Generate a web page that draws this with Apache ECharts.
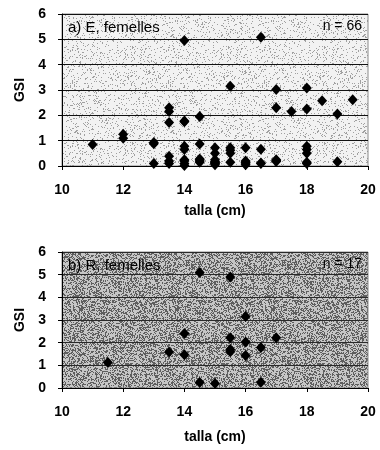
<!DOCTYPE html>
<html>
<head>
<meta charset="utf-8">
<script src="https://cdn.jsdelivr.net/npm/echarts@6/dist/echarts.min.js"></script>
<style>
  html, body { margin: 0; padding: 0; background: #fff; }
  #chart { width: 380px; height: 450px; }
</style>
</head>
<body>
<div id="chart"></div>
<script>
// Axis ticks shared by both panels
const xTicks = [10, 12, 14, 16, 18, 20];
const yTicks = [0, 1, 2, 3, 4, 5, 6];

// a) E, femelles (n = 66): body length (cm) and gonadosomatic index
const tallaE = [
  11,
  12, 12,
  13, 13, 13,
  13.5, 13.5, 13.5, 13.5, 13.5, 13.5,
  14, 14, 14, 14, 14, 14, 14, 14, 14,
  14.5, 14.5, 14.5, 14.5, 14.5, 14.5,
  15, 15, 15, 15, 15, 15, 15, 15,
  15.5, 15.5, 15.5, 15.5, 15.5,
  16, 16, 16, 16, 16,
  16.5, 16.5, 16.5,
  17, 17, 17, 17, 17,
  17.5,
  18, 18, 18, 18, 18, 18, 18,
  18.5,
  19, 19,
  19.5,
  16.5
];
const gsiE = [
  0.85,
  1.25, 1.1,
  0.93, 0.88, 0.1,
  2.3, 2.15, 1.72, 0.38, 0.2, 0.1,
  4.95, 1.78, 1.75, 0.78, 0.65, 0.25, 0.2, 0.1, 0.02,
  1.95, 0.87, 0.28, 0.25, 0.2, 0.15,
  0.72, 0.5, 0.25, 0.18, 0.15, 0.12, 0.1, 0.05,
  3.15, 0.72, 0.62, 0.5, 0.15,
  0.72, 0.2, 0.15, 0.12, 0.05,
  5.08, 0.66, 0.1,
  3.02, 2.3, 0.25, 0.22, 0.18,
  2.15,
  3.08, 2.25, 0.78, 0.65, 0.5, 0.15, 0.1,
  2.58,
  2.05, 0.17,
  2.62,
  0.12
];

// b) R, femelles (n = 17)
const tallaR = [11.5, 13.5, 14, 14, 14.5, 14.5, 15, 15.5, 15.5, 15.5, 15.5, 16, 16, 16, 16.5, 16.5, 17];
const gsiR   = [1.13, 1.59, 2.4, 1.47, 5.1, 0.24, 0.2, 4.9, 2.22, 1.7, 1.6, 3.15, 2.03, 1.43, 1.79, 0.25, 2.22];

const panelLabels = ['a) E, femelles', 'b) R, femelles'];
const countLabels = ['n = 66', 'n = 17'];
const xName = 'talla (cm)';
const yName = 'GSI';

// Stippled paper texture for the plot backgrounds (deterministic hash)
function stipple(base, dark, density) {
  const c = document.createElement('canvas');
  c.width = 96; c.height = 96;
  const ctx = c.getContext('2d');
  ctx.fillStyle = base;
  ctx.fillRect(0, 0, 96, 96);
  ctx.fillStyle = dark;
  for (let y = 0; y < 96; y++) {
    for (let x = 0; x < 96; x++) {
      const h = Math.sin(x * 12.9898 + y * 78.233) * 43758.5453;
      const v = h - Math.floor(h);
      if (v < density) ctx.fillRect(x, y, 1, 1);
    }
  }
  return { image: c, repeat: 'repeat' };
}

const FONT = 'Liberation Sans, Arial, sans-serif';
const grids = [
  { left: 62, top: 14, width: 306, height: 152, bg: stipple('#f2f2f2', '#a0a0a0', 0.12), split: '#111', nameGap: 38, labelMargin: 17 },
  { left: 62, top: 252, width: 306, height: 136, bg: stipple('#c6c6c6', '#5e5e5e', 0.42), split: '#2a2a2a', nameGap: 42, labelMargin: 17 }
];

const option = {
  animation: false,
  backgroundColor: '#fff',
  grid: grids.map(g => ({
    left: g.left, top: g.top, width: g.width, height: g.height,
    show: true, backgroundColor: g.bg, borderColor: '#8a8a8a', borderWidth: 1
  })),
  xAxis: grids.map((g, i) => ({
    gridIndex: i, type: 'value',
    min: xTicks[0], max: xTicks[xTicks.length - 1], interval: xTicks[1] - xTicks[0],
    name: xName, nameLocation: 'middle', nameGap: g.nameGap,
    nameTextStyle: { fontFamily: FONT, fontSize: 14, fontWeight: 'bold', color: '#000' },
    axisLine: { show: true, lineStyle: { color: '#000', width: 1 } },
    axisTick: { show: true, length: 4, lineStyle: { color: '#000' } },
    axisLabel: { fontFamily: FONT, fontSize: 14, fontWeight: 'bold', color: '#000', margin: g.labelMargin },
    splitLine: { show: false }
  })),
  yAxis: grids.map((g, i) => ({
    gridIndex: i, type: 'value',
    min: yTicks[0], max: yTicks[yTicks.length - 1], interval: yTicks[1] - yTicks[0],
    name: yName, nameLocation: 'middle', nameGap: 35, nameRotate: 90,
    nameTextStyle: { fontFamily: FONT, fontSize: 14, fontWeight: 'bold', color: '#000' },
    axisLine: { show: true, lineStyle: { color: '#000', width: 1 } },
    axisTick: { show: true, length: 4, lineStyle: { color: '#000' } },
    axisLabel: { fontFamily: FONT, fontSize: 14, fontWeight: 'bold', color: '#000', margin: 16 },
    splitLine: { show: true, lineStyle: { color: g.split, width: 1 } }
  })),
  series: [
    { x: tallaE, y: gsiE },
    { x: tallaR, y: gsiR }
  ].map((s, i) => ({
    type: 'scatter',
    xAxisIndex: i, yAxisIndex: i,
    symbol: 'diamond', symbolSize: [10, 11],
    itemStyle: { color: '#000', opacity: 1 },
    data: s.x.map((v, k) => [v, s.y[k]])
  })),
  graphic: grids.map((g, i) => [
    { type: 'text', left: g.left + 6, top: g.top + 6,
      style: { text: panelLabels[i], font: '15px ' + FONT, fill: '#000' } },
    { type: 'text', right: 380 - (g.left + g.width) + 6, top: g.top + 5,
      style: { text: countLabels[i], font: '14px ' + FONT, fill: '#000' } }
  ]).flat()
};

const chart = echarts.init(document.getElementById('chart'), null, { renderer: 'canvas' });
chart.setOption(option);
</script>
</body>
</html>
